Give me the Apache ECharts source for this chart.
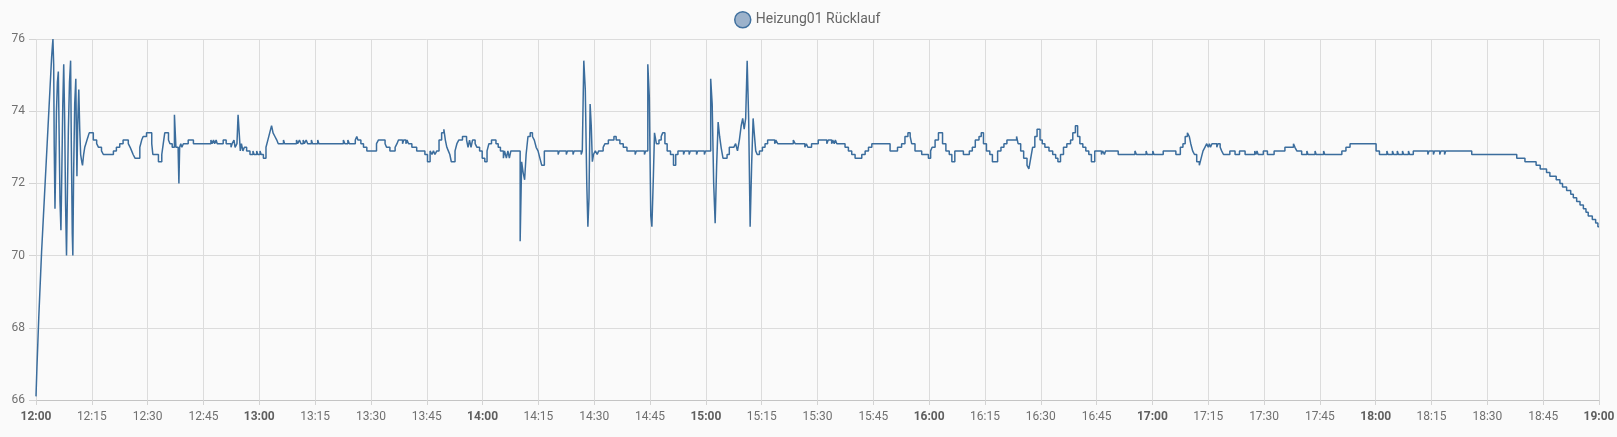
<!DOCTYPE html>
<html>
<head>
<meta charset="utf-8">
<script src="https://cdn.jsdelivr.net/npm/echarts@6/dist/echarts.min.js"></script>
<style>
html,body{margin:0;padding:0;background:#fafafa;}
#chart{width:1617px;height:437px;}
</style>
</head>
<body>
<div id="chart"></div>
<script>
// Time axis: minutes after 12:00; values: °C
const seriesName = 'Heizung01 Rücklauf';
const yMin = 66, yMax = 76, yStep = 2;
const xMin = 0, xMax = 420, xStep = 15;
const startHour = 12;

const h12 = [[0,66.1],[0.25,66.9],[0.5,67.6],[0.75,68.3],[1.0,68.9],[1.25,69.5],[1.5,70.1],[1.75,70.6],[2.0,71.1],[2.25,71.6],[2.5,72.1],[2.75,72.6],[3.0,73.1],[3.25,73.6],[3.5,74.1],[3.75,74.6],[4.0,75.1],[4.2,75.5],[4.4,75.8],[4.55,76.0],
[4.75,75.3],[4.9,73.0],[5.1,71.3],[5.3,72.6],[5.5,74.0],[5.75,74.8],[6.0,75.1],[6.2,73.5],[6.45,71.5],[6.7,70.7],[6.95,72.4],[7.2,74.2],[7.45,75.3],[7.7,73.8],[7.95,71.4],[8.2,70.0],[8.45,71.8],[8.7,73.5],[9.0,74.8],[9.3,75.4],[9.5,73.0],[9.75,70.6],[9.9,70.0],[10.1,72.2],[10.4,74.2],[10.7,74.9],[10.85,73.4],[11.0,72.2],[11.2,73.6],[11.5,74.6],[11.75,73.5],[12.0,72.8],[12.3,72.6],[12.5,72.5],[12.8,72.8],[13.1,73.0],[13.4,73.1],[13.7,73.2],[14.0,73.3],[14.3,73.4],[15.4,73.2],[16.3,73.1],[16.8,73.0],[17.6,72.9],[18.1,72.8],[20.8,72.9],[21.6,73.0],[22.5,73.1],[23.4,73.2],[24.8,73.1],[25.3,73.0],[25.7,72.9],[26.1,72.8],[26.6,72.7],[27.9,73.0],[28.4,73.2],[28.8,73.3],[29.7,73.4],[31.1,73.1],[31.4,72.8],[32.9,72.6],[33.8,72.8],[34.2,73.1],[34.6,73.4],[35.6,73.2],[36.0,73.1],[36.6,73.0],[37.2,73.9],[37.6,73.0],[38.2,72.9],[38.4,72.0],[38.6,73.0],[38.9,73.1],[39.2,73.0],[39.6,73.1],[40.9,73.2],[42.3,73.1],[47.0,73.2],[47.3,73.1],[47.7,73.2],[48.0,73.1],[48.4,73.2],[48.7,73.1],[50.3,73.2],[51.1,73.1],[52.4,73.0],[52.7,73.1],[53.2,73.2],[53.5,73.0],[54.0,73.1],[54.3,73.9],[54.6,73.4],[54.9,72.9],[55.2,73.1],[55.6,72.9],[56.0,73.0],[56.6,72.9],[57.5,72.8],[58.3,72.9],[58.6,72.8],[59.3,72.9],[59.6,72.8]];

const h13 = [[60.2,72.9],[60.5,72.8],[61.1,72.7],[61.8,73.0],[62.3,73.2],[62.8,73.4],[63.3,73.6],[63.7,73.4],[64.2,73.3],[64.7,73.2],[65.1,73.1],[66.5,73.2],[66.8,73.1],[70.0,73.2],[70.3,73.1],[70.8,73.2],[71.2,73.1],[71.8,73.2],[72.1,73.1],[72.6,73.2],[73.0,73.1],[74.0,73.2],[74.3,73.1],[75.7,73.2],[76.0,73.1],[82.6,73.2],[83.0,73.1],[83.8,73.2],[84.2,73.1],[85.8,73.2],[86.2,73.3],[86.5,73.2],[87.3,73.1],[88.0,73.0],[88.9,72.9],[91.5,73.1],[92.0,73.2],[93.8,73.1],[94.2,73.0],[95.1,72.9],[96.5,73.0],[97.0,73.1],[97.4,73.2],[98.5,73.1],[98.8,73.2],[99.4,73.1],[99.7,73.2],[100.1,73.1],[101.0,73.0],[102.3,72.9],[104.5,72.8],[105.2,72.6],[105.9,72.9],[106.4,72.8],[106.8,72.9],[107.2,72.8],[107.7,72.9],[108.3,73.2],[109.0,73.4],[109.6,73.5],[110.0,73.2],[110.4,73.0],[110.8,72.9],[111.2,72.8],[111.6,72.6],[112.6,72.9],[113.1,73.1],[113.6,73.2],[114.6,73.3],[115.7,73.2],[116.1,73.0],[116.5,73.2],[116.9,73.0],[117.3,73.2],[118.0,73.1],[118.5,73.0],[119.2,72.9],[119.9,72.7]];

const h14 = [[120.6,72.6],[121.2,72.9],[121.7,73.1],[122.4,73.2],[123.6,73.1],[124.2,73.0],[124.8,72.9],[125.6,72.7],[125.9,72.9],[126.4,72.7],[126.8,72.9],[127.2,72.7],[127.6,72.9],[130.1,70.4],[130.5,72.6],[130.9,72.3],[131.3,72.1],[131.7,72.8],[132.2,73.3],[132.8,73.4],[133.4,73.3],[133.9,73.2],[134.4,73.0],[134.9,72.9],[135.4,72.7],[135.9,72.5],[136.6,72.9],[140.3,72.8],[140.6,72.9],[142.5,72.8],[142.8,72.9],[144.3,72.8],[144.6,72.9],[146.5,72.8],[146.8,72.9],[147.2,75.4],[147.6,74.6],[148.0,72.0],[148.3,70.8],[148.6,71.6],[148.9,74.2],[149.2,73.6],[149.5,72.6],[149.8,72.8],[150.3,72.9],[150.8,72.8],[151.2,72.9],[152.4,73.0],[152.9,73.1],[153.8,73.2],[155.3,73.3],[155.9,73.2],[156.9,73.1],[157.8,73.0],[158.8,72.9],[161.0,72.8],[161.3,72.9],[163.5,72.8],[163.8,72.9],[164.4,75.3],[164.8,74.4],[165.2,71.1],[165.5,70.8],[165.9,72.2],[166.2,73.4],[166.7,73.1],[167.4,73.2],[168.0,73.3],[168.4,73.4],[169.0,73.1],[169.6,72.9],[170.5,72.8],[171.3,72.5],[171.9,72.8],[172.5,72.9],[174.0,72.8],[174.3,72.9],[175.5,72.8],[175.8,72.9],[177.5,72.8],[177.8,72.9],[179.6,72.8],[179.9,72.9]];

const h15 = [[181.3,74.9],[181.7,74.2],[182.1,72.0],[182.5,70.9],[182.9,72.5],[183.3,73.7],[183.7,73.3],[184.1,73.0],[184.6,72.7],[185.7,72.8],[186.3,73.0],[187.5,73.0],[188.0,73.1],[188.5,72.9],[189.0,73.2],[189.5,73.6],[189.9,73.8],[190.3,73.5],[190.7,73.8],[191.1,75.4],[191.5,73.8],[191.9,70.8],[192.3,72.5],[192.7,73.8],[193.0,73.4],[193.4,72.9],[193.8,72.8],[194.4,72.9],[195.2,73.0],[195.9,73.1],[196.6,73.2],[198.5,73.1],[198.8,73.2],[199.3,73.1],[203.5,73.2],[204.0,73.1],[206.6,73.0],[207.0,73.1],[207.4,73.0],[208.4,73.1],[210.2,73.2],[212.5,73.1],[212.9,73.2],[213.8,73.1],[214.1,73.2],[214.5,73.1],[214.8,73.2],[215.2,73.1],[217.4,73.0],[218.3,72.9],[219.2,72.8],[220.1,72.7],[221.9,72.8],[222.8,72.9],[223.7,73.0],[224.6,73.1],[229.5,72.9],[231.5,73.0],[232.6,73.1],[233.5,73.3],[234.3,73.4],[234.9,73.3],[235.3,73.1],[236.2,72.9],[238.0,72.8],[239.8,72.7]];

const h16 = [[240.4,72.9],[240.8,73.0],[241.6,73.2],[242.5,73.4],[243.6,73.1],[244.5,72.9],[245.4,72.8],[246.1,72.6],[246.9,72.9],[249.2,72.8],[250.8,72.9],[251.6,73.0],[252.4,73.2],[253.4,73.3],[254.0,73.4],[254.6,73.1],[255.4,72.9],[256.3,72.8],[257.0,72.6],[258.4,72.9],[259.3,73.0],[260.1,73.1],[260.9,73.2],[263.5,73.3],[263.9,73.1],[264.6,72.9],[265.4,72.7],[266.3,72.5],[266.8,72.4],[267.3,72.7],[267.8,73.0],[268.4,73.3],[269.0,73.5],[269.8,73.2],[270.4,73.1],[271.1,73.0],[272.2,72.9],[273.2,72.8],[274.0,72.7],[274.6,72.6],[275.3,72.8],[276.1,73.0],[277.0,73.1],[278.0,73.2],[278.6,73.4],[279.3,73.6],[279.9,73.3],[280.5,73.1],[281.3,73.0],[282.1,72.9],[282.9,72.8],[283.6,72.6],[284.5,72.9],[286.3,72.8],[286.6,72.9],[287.1,72.8],[287.4,72.9],[290.8,72.8],[295.3,72.9],[295.7,72.8],[298.3,72.9],[298.6,72.8]];

const h17 = [[300.1,72.9],[300.4,72.8],[302.9,72.9],[306.3,72.8],[307.5,73.0],[308.2,73.1],[308.8,73.3],[309.4,73.4],[309.9,73.3],[310.3,73.1],[310.8,72.9],[311.3,72.8],[311.9,72.6],[312.6,72.5],[313.1,72.7],[313.6,72.9],[314.1,73.0],[314.6,73.1],[315.0,73.0],[315.3,73.1],[315.6,73.0],[316.0,73.1],[317.3,73.0],[317.6,73.1],[318.2,73.0],[318.6,72.9],[319.1,72.8],[320.8,72.9],[322.2,72.8],[323.4,72.9],[324.9,72.8],[327.5,72.9],[327.8,72.8],[328.1,72.9],[328.4,72.8],[329.8,72.9],[330.9,72.8],[332.7,72.9],[335.6,73.0],[337.9,73.1],[338.3,73.0],[338.8,72.9],[340.1,72.8],[341.5,72.9],[341.8,72.8],[343.7,72.9],[344.0,72.8],[346.0,72.9],[346.3,72.8],[350.9,72.9],[352.0,73.0],[353.1,73.1]];

const h18 = [[360.1,72.9],[361.0,72.8],[363.0,72.9],[363.3,72.8],[364.5,72.9],[364.8,72.8],[365.8,72.9],[366.1,72.8],[367.2,72.9],[367.5,72.8],[368.8,72.9],[369.1,72.8],[370.1,72.9],[374.0,72.8],[374.3,72.9],[375.5,72.8],[375.8,72.9],[377.2,72.8],[377.5,72.9],[378.5,72.8],[378.8,72.9],[385.8,72.8],[397.9,72.7],[400.1,72.6],[403.1,72.5],[404.2,72.4],[405.9,72.3],[406.8,72.2],[408.5,72.1],[409.5,72.0],[410.2,71.9],[411.3,71.8],[412.4,71.7],[413.1,71.6],[414.0,71.5],[414.9,71.4],[415.8,71.3],[416.5,71.2],[417.1,71.1],[418.2,71.0],[419.1,70.9],[419.7,70.8],[420,70.8]];

const data = [].concat(h12, h13, h14, h15, h16, h17, h18);

const lineColor = '#3b6d9d';
const font = 'Roboto, "Noto Sans", sans-serif';

function fmtTime(v) {
  const h = startHour + Math.floor(v / 60);
  const m = Math.round(v % 60);
  const s = h + ':' + (m < 10 ? '0' : '') + m;
  return m === 0 ? '{b|' + s + '}' : s;
}

const chart = echarts.init(document.getElementById('chart'), null, {renderer: 'canvas'});
chart.setOption({
  backgroundColor: '#fafafa',
  animation: false,
  textStyle: {fontFamily: font},
  legend: {
    left: 729, top: 6,
    itemWidth: 16, itemHeight: 16, itemGap: 10,
    textStyle: {color: '#666', fontSize: 14, fontFamily: font},
    data: [{
      name: seriesName, icon: 'circle',
      itemStyle: {color: '#9cb2cb', borderColor: '#41719f', borderWidth: 1.5}
    }]
  },
  grid: {left: 36, right: 18, top: 39, bottom: 37, containLabel: false, outerBoundsMode: 'none'},
  xAxis: {
    type: 'value', min: xMin, max: xMax, interval: xStep,
    axisLine: {show: true, lineStyle: {color: '#c4c4c4', width: 1}},
    axisTick: {show: true, length: 5, lineStyle: {color: '#d4d4d4'}},
    splitLine: {show: true, lineStyle: {color: '#dcdcdc', width: 1}},
    axisLabel: {
      margin: 11, color: '#707070', fontSize: 12, fontFamily: font,
      showMinLabel: true, showMaxLabel: true, hideOverlap: false,
      formatter: fmtTime,
      rich: {b: {fontWeight: 'bold', color: '#5f5f5f', fontSize: 12, fontFamily: font}}
    }
  },
  yAxis: {
    type: 'value', min: yMin, max: yMax, interval: yStep,
    name: '°C', nameLocation: 'middle', nameGap: 40, nameRotate: 90,
    nameTextStyle: {color: '#666', fontSize: 12, fontFamily: font},
    axisLine: {show: false},
    axisTick: {show: true, length: 7, lineStyle: {color: '#d4d4d4'}},
    splitLine: {show: true, lineStyle: {color: '#dcdcdc', width: 1}},
    axisLabel: {margin: 11, color: '#707070', fontSize: 12, fontFamily: font}
  },
  series: [{
    name: seriesName,
    type: 'line',
    step: 'end',
    showSymbol: false,
    symbol: 'none',
    sampling: null,
    data: data,
    lineStyle: {color: lineColor, width: 1.5},
    itemStyle: {color: lineColor}
  }]
});
</script>
</body>
</html>
